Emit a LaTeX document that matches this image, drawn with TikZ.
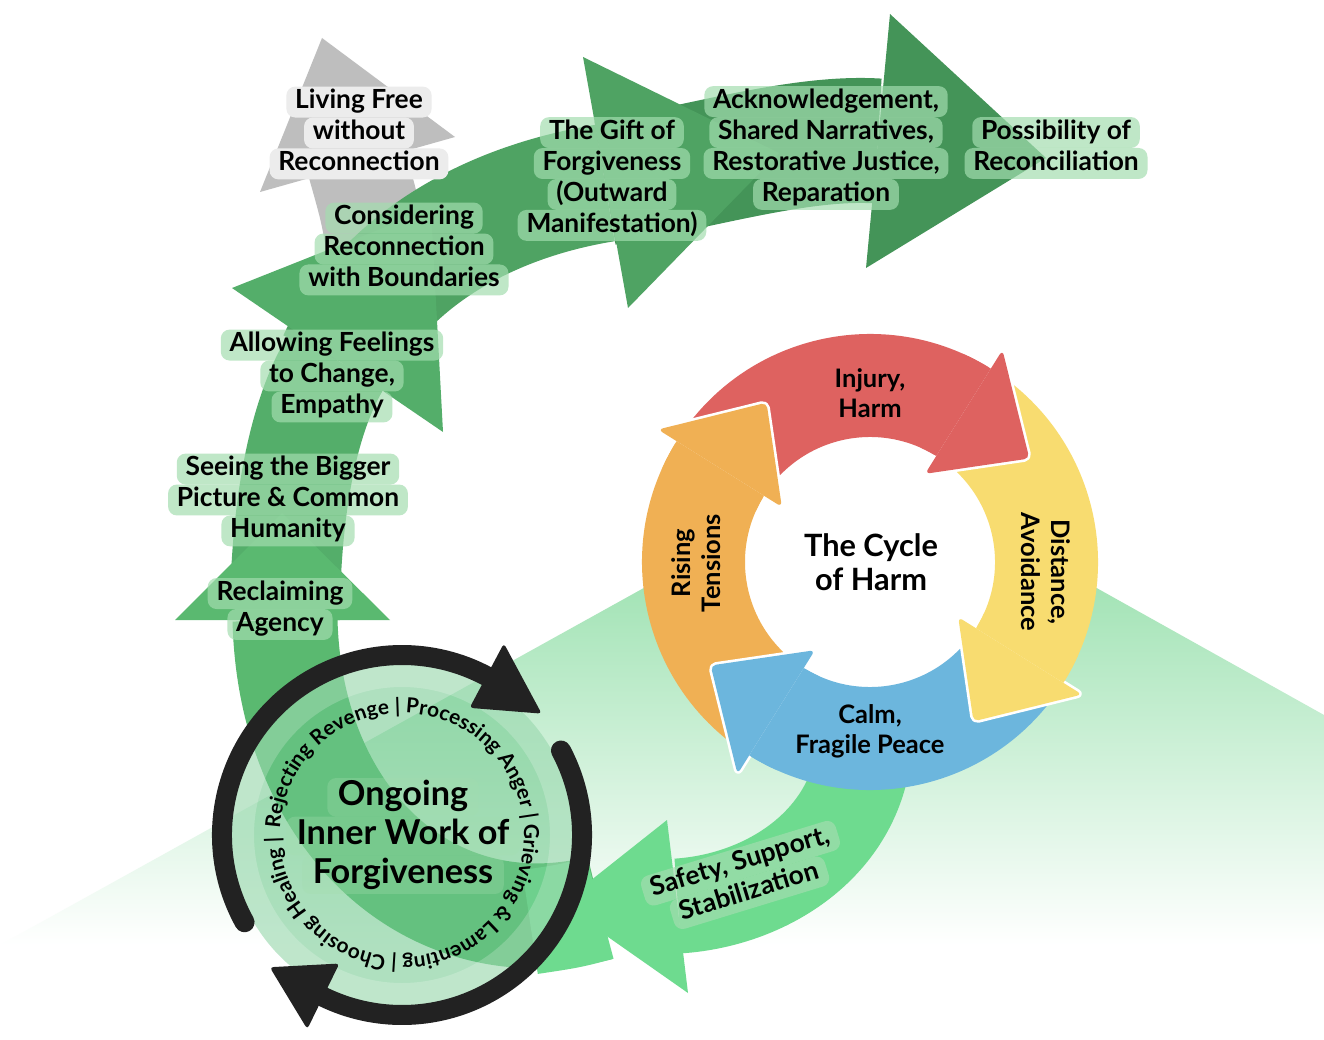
\documentclass[tikz,border=0pt]{standalone}
\usepackage{fontspec}
\setmainfont{Lato}
\usetikzlibrary{calc,decorations.text}
\definecolor{spiralA}{RGB}{90,185,112}
\definecolor{spiralB}{RGB}{84,174,106}
\definecolor{spiralC}{RGB}{79,163,99}
\definecolor{spiralD}{RGB}{68,148,88}
\definecolor{safegreen}{RGB}{110,219,143}
\definecolor{freegray}{RGB}{190,190,190}
\definecolor{boxgreen}{RGB}{163,221,175}
\definecolor{boxgray}{RGB}{236,236,236}
\definecolor{hilltop}{RGB}{132,218,157}
\definecolor{discgreen}{RGB}{110,200,140}
\definecolor{ringblack}{RGB}{34,34,34}
\definecolor{harmred}{RGB}{222,98,96}
\definecolor{harmyellow}{RGB}{248,220,112}
\definecolor{harmblue}{RGB}{108,182,221}
\definecolor{harmorange}{RGB}{240,176,84}
\tikzset{
  linebox/.style={fill=boxgreen, fill opacity=.69, text opacity=1, rounded corners=5pt,
    inner xsep=5pt, inner ysep=0pt, outer sep=0pt, text height=12.6pt, text depth=5pt},
  graybox/.style={linebox, fill=boxgray, fill opacity=1},
  bigbox/.style={linebox, fill opacity=.3, inner xsep=6pt, text height=15.8pt, text depth=6.2pt},
  stagetext/.style={align=center, inner sep=0pt, font=\bfseries\fontsize{15}{17.6}\selectfont},
  bigtext/.style={stagetext, font=\bfseries\fontsize{19.5}{22}\selectfont},
  cycletext/.style={align=center, inner sep=0pt, font=\bfseries\fontsize{14.5}{17}\selectfont},
  whitecut/.style={white, line width=3pt, line join=round, rounded corners=3pt},
}
% one highlighted line of a stage label
\newcommand{\stageline}[2][linebox]{\tikz[reset cm,baseline=(hl.base)]\node[#1] (hl) {#2};}

\begin{document}
\begin{tikzpicture}[x=0.02cm, y=0.02cm]
  \fill[white] (0,0) rectangle (1324,-1040);%
  \useasboundingbox (0,0) rectangle (1324,-1040);%
  % hill behind the cycle
  \shade[top color=hilltop, bottom color=white] (0,-945) -- (871,-462) -- (1324,-715) -- (1324,-945) -- cycle;%
  % grey branch
  \draw[freegray, line width=2cm] (378,-255) .. controls (370,-210) .. (357,-164);%
  \fill[freegray] (322,-38) -- (260,-192) -- (455,-137) -- cycle;%
  % spiral of forgiveness
  \draw[spiralA, line width=2.1cm] (600,-908) .. controls (430,-950) and (290,-820) .. (285,-620);%
  \draw[safegreen, line width=2.1cm] (600,-908) .. controls (570,-916) .. (530,-922);%
  \draw[safegreen, line width=1.9cm] (865,-740) .. controls (860,-840) and (770,-900) .. (678,-906);%
  \fill[safegreen] (667,-820) -- (688,-993) -- (561,-904) -- cycle;%
  \draw[spiralB, line width=2.2cm] (285,-620) .. controls (285,-520) and (300,-420) .. (337,-360);%
  \fill[spiralA] (175,-620) -- (390,-620) -- (282,-513) -- cycle;%
  \draw[spiralC, line width=2.36cm] (337,-360) .. controls (375,-275) and (470,-205) .. (605,-183);%
  \fill[spiralB] (232,-288) -- (443,-432) -- (431,-209) -- cycle;%
  \draw[spiralD, line width=2.5cm] (605,-183) .. controls (700,-167) and (800,-136) .. (878,-141);%
  \fill[spiralC] (583,-57) -- (628,-308) -- (779,-153) -- cycle;%
  \fill[spiralD] (890,-14) -- (866,-268) -- (1046,-158) -- cycle;%
  % the cycle of harm
  \coordinate (harm) at (870,-562);%
  \fill[white] (harm) circle[radius=126];%
  \foreach \hAt/\hCol in {148/harmorange, 58/harmred, -32/harmyellow, -122/harmblue}{
    \pgfmathsetmacro{\hTail}{\hAt+90}
    \fill[\hCol] ($(harm)+(\hTail:228)$) arc[start angle=\hTail, end angle=\hAt, radius=228]
      -- ($(harm)+(\hAt:125)$) arc[start angle=\hAt, end angle=\hTail, radius=125] -- cycle;
  }
  \foreach \hAt/\hCol in {148/harmorange, 58/harmred, -32/harmyellow, -122/harmblue}{
    \pgfmathsetmacro{\hTip}{\hAt-25}
    \pgfmathsetmacro{\hBack}{\hAt+8}
    \draw[whitecut] ($(harm)+(\hAt:104)$) -- ($(harm)+(\hAt:250)$) -- ($(harm)+(\hTip:190)$) -- cycle;
    \fill[\hCol, rounded corners=3pt] ($(harm)+(\hAt:104)$) -- ($(harm)+(\hAt:250)$) -- ($(harm)+(\hTip:190)$) -- cycle;
    \fill[\hCol] ($(harm)+(\hBack:228)$) arc[start angle=\hBack, end angle=\hAt, radius=228]
      -- ($(harm)+(\hAt:125)$) arc[start angle=\hAt, end angle=\hBack, radius=125] -- cycle;
  }
  \node[cycletext] (injury) at (870,-393) {Injury,\\Harm};%
  \node[cycletext, rotate=-90] (distance) at (1046,-572) {Distance,\\Avoidance};%
  \node[cycletext] (calm) at (870,-731) {Calm,\\Fragile Peace};%
  \node[cycletext, rotate=90] (rising) at (696,-563) {Rising\\Tensions};%
  \node[cycletext, font=\bfseries\fontsize{17.5}{19.5}\selectfont] (cyclename) at (871,-562) {The Cycle\\of Harm};%
  % inner work circle
  \coordinate (work) at (402,-835);%
  \fill[discgreen, opacity=.55] (work) circle[radius=172];%
  \fill[white, opacity=.2, even odd rule] (work) circle[radius=172] (work) circle[radius=148];%
  \draw[ringblack, line width=0.4cm, line cap=round] ($(work)+(209:180)$) arc[start angle=209, end angle=62, radius=180];%
  \fill[ringblack, rounded corners=2pt] ($(work)+(62:144)$) -- ($(work)+(62:217)$) -- ($(work)+(41:185)$) -- cycle;%
  \draw[ringblack, line width=0.4cm, line cap=round] ($(work)+(28:180)$) arc[start angle=28, end angle=-116, radius=180];%
  \fill[ringblack, rounded corners=2pt] ($(work)+(-116:143)$) -- ($(work)+(-116:216)$) -- ($(work)+(-135:187)$) -- cycle;%
  \path[decorate, decoration={text along path, text format delimiters={[}{]}, text align=fit to path,
    text={[\bfseries\fontsize{11.8}{13}\selectfont]Rejecting Revenge | Processing Anger | Grieving {\&} Lamenting | Choosing Healing |}}]
    ($(work)+(177:122)$) arc[start angle=177, end angle=-179, radius=122];%
  \node[bigtext] (ongoing) at (403,-836) {\stageline[bigbox]{Ongoing}\\\stageline[bigbox]{Inner Work of}\\\stageline[bigbox]{Forgiveness}};%
  % stage labels
  \node[stagetext] (living) at (359,-133) {\stageline[graybox]{Living Free}\\\stageline[graybox]{without}\\\stageline[graybox]{Reconnection}};%
  \node[stagetext] (considering) at (404,-249) {\stageline{Considering}\\\stageline{Reconnection}\\\stageline{with Boundaries}};%
  \node[stagetext] (allowing) at (332,-376) {\stageline{Allowing Feelings}\\\stageline{to Change,}\\\stageline{Empathy}};%
  \node[stagetext] (seeing) at (288,-500) {\stageline{Seeing the Bigger}\\\stageline{Picture \& Common}\\\stageline{Humanity}};%
  \node[stagetext] (reclaiming) at (280,-609) {\stageline{Reclaiming}\\\stageline{Agency}};%
  \node[stagetext] (gift) at (612,-179) {\stageline{The Gift of}\\\stageline{Forgiveness}\\\stageline{(Outward}\\\stageline{Manifestation)}};%
  \node[stagetext] (acknowledge) at (826,-148) {\stageline{Acknowledgement,}\\\stageline{Shared Narratives,}\\\stageline{Restorative Justice,}\\\stageline{Reparation}};%
  \node[stagetext] (possibility) at (1056,-148) {\stageline{Possibility of}\\\stageline{Reconciliation}};%
  \node[stagetext, rotate=17] (safety) at (745,-878) {\stageline{Safety, Support,}\\\stageline{Stabilization}};%
\end{tikzpicture}
\end{document}
